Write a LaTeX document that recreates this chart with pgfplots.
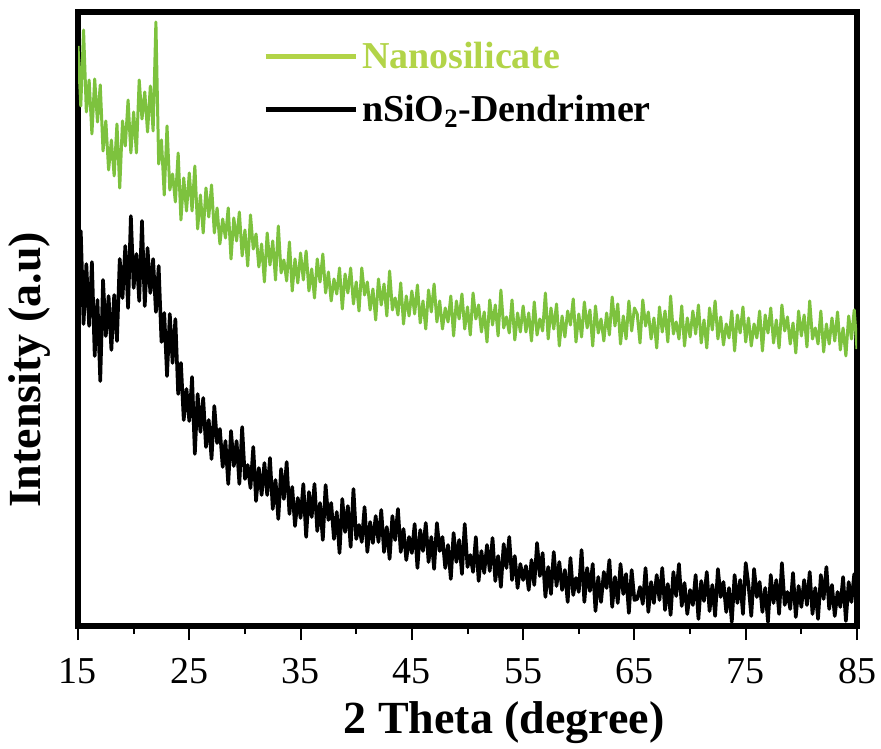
\documentclass[border=0pt]{standalone}
\usepackage{fontspec}
\setmainfont{Liberation Serif}
\usepackage{pgfplots}
\pgfplotsset{compat=1.18}
\definecolor{cgreen}{RGB}{125,194,62}
\definecolor{lgreen}{RGB}{178,212,72}
\begin{document}
\begin{tikzpicture}
\begin{axis}[
 scale only axis, width=389.5pt, height=307pt,
 xmin=15, xmax=85, ymin=0, ymax=614,
 axis line style={line width=3pt},
 xtick={15,25,...,85}, minor xtick={20,30,...,80},
 xtick pos=bottom, ytick=\empty,
 tick align=outside,
 major tick length=7pt, minor tick length=4pt,
 tick style={black, line width=1pt},
 minor tick style={black, line width=1pt},
 /pgf/number format/assume math mode=true,
 ticklabel style={font=\fontsize{19}{22}\selectfont},
 xticklabel style={inner sep=0pt, anchor=north, yshift=-9pt},
 label style={font=\bfseries\fontsize{23}{27}\selectfont},
 xlabel={2 Theta (degree)},
 ylabel={Intensity (a.u)},
 xlabel style={at={(axis description cs:0.547,-0.158)}, anchor=center},
 ylabel style={at={(axis description cs:-0.062,0.417)}, anchor=center},
 legend style={draw=none, fill=none, at={(rel axis cs:0.2375,0.958)}, anchor=north west,
   inner sep=0pt, outer sep=0pt, row sep=8pt, font=\bfseries\fontsize{19}{22}\selectfont,
   cells={anchor=west}, nodes={inner sep=2pt}},
 legend image code/.code={\draw[#1, line width=2.5pt] (0pt,0pt) -- (45pt,0pt);},
]
\addplot[cgreen, line width=1.5pt, line join=round, forget plot] coordinates {
(15,580)(15.25,520)(15.5,596)(15.75,514)(16,546)(16.25,492)(16.5,547)(16.75,504)(17,541)(17.25,475)(17.5,505)(17.75,456)(18,486)(18.25,450)(18.5,502)(18.75,438)(19,505)(19.25,480)(19.5,526)(19.75,473)
(20,514)(20.25,473)(20.5,546)(20.75,507)(21,534)(21.25,494)(21.5,540)(21.75,495)(22,604)(22.25,462)(22.5,486)(22.75,431)(23,500)(23.25,436)(23.5,452)(23.75,424)(24,473)(24.25,406)(24.5,448)(24.75,415)
(25,453)(25.25,415)(25.5,460)(25.75,397)(26,431)(26.25,393)(26.5,438)(26.75,409)(27,441)(27.25,393)(27.5,418)(27.75,382)(28,407)(28.25,388)(28.5,418)(28.75,367)(29,408)(29.25,385)(29.5,414)(29.75,370)
(30,396)(30.25,360)(30.5,411)(30.75,377)(31,392)(31.25,359)(31.5,382)(31.75,344)(32,393)(32.25,361)(32.5,385)(32.75,346)(33,400)(33.25,353)(33.5,366)(33.75,345)(34,384)(34.25,335)(34.5,367)(34.75,343)
(35,373)(35.25,346)(35.5,375)(35.75,335)(36,357)(36.25,328)(36.5,367)(36.75,344)(37,372)(37.25,333)(37.5,354)(37.75,325)(38,347)(38.25,332)(38.5,358)(38.75,317)(39,352)(39.25,333)(39.5,358)(39.75,322)
(40,344)(40.25,315)(40.5,358)(40.75,331)(41,344)(41.25,316)(41.5,337)(41.75,306)(42,347)(42.25,321)(42.5,342)(42.75,310)(43,355)(43.25,316)(43.5,328)(43.75,311)(44,343)(44.25,302)(44.5,330)(44.75,310)
(45,335)(45.25,312)(45.5,341)(45.75,303)(46,325)(46.25,297)(46.5,336)(46.75,314)(47,342)(47.25,304)(47.5,325)(47.75,297)(48,318)(48.25,304)(48.5,330)(48.75,290)(49,325)(49.25,307)(49.5,332)(49.75,297)
(50,319)(50.25,291)(50.5,333)(50.75,307)(51,321)(51.25,294)(51.5,314)(51.75,284)(52,326)(52.25,301)(52.5,321)(52.75,290)(53,336)(53.25,298)(53.5,309)(53.75,293)(54,326)(54.25,286)(54.5,313)(54.75,294)
(55,320)(55.25,294)(55.5,313)(55.75,285)(56,324)(56.25,291)(56.5,307)(56.75,295)(57,333)(57.25,287)(57.5,318)(57.75,297)(58,322)(58.25,280)(58.5,310)(58.75,289)(59,315)(59.25,301)(59.5,327)(59.75,284)
(60,312)(60.25,289)(60.5,324)(60.75,298)(61,316)(61.25,280)(61.5,320)(61.75,293)(62,307)(62.25,285)(62.5,313)(62.75,291)(63,329)(63.25,300)(63.5,322)(63.75,282)(64,310)(64.25,287)(64.5,325)(64.75,295)
(65,318)(65.25,312)(65.5,283)(65.75,326)(66,300)(66.25,314)(66.5,287)(66.75,308)(67,278)(67.25,319)(67.5,294)(67.75,315)(68,284)(68.25,330)(68.5,292)(68.75,304)(69,287)(69.25,320)(69.5,280)(69.75,308)
(70,289)(70.25,315)(70.5,292)(70.75,321)(71,283)(71.25,306)(71.5,278)(71.75,318)(72,296)(72.25,325)(72.5,287)(72.75,309)(73,281)(73.25,302)(73.5,288)(73.75,315)(74,275)(74.25,311)(74.5,293)(74.75,319)
(75,284)(75.25,308)(75.5,280)(75.75,302)(76,288)(76.25,315)(76.5,275)(76.75,311)(77,293)(77.25,318)(77.5,283)(77.75,306)(78,278)(78.25,321)(78.5,295)(78.75,309)(79,282)(79.25,303)(79.5,273)(79.75,315)
(80,290)(80.25,311)(80.5,279)(80.75,325)(81,287)(81.25,298)(81.5,282)(81.75,315)(82,274)(82.25,302)(82.5,282)(82.75,308)(83,285)(83.25,314)(83.5,276)(83.75,298)(84,270)(84.25,310)(84.5,287)(84.75,316)(85,277)
};
\addplot[black, line width=1.8pt, line join=round, forget plot] coordinates {
(15,340)(15.25,395)(15.5,302)(15.75,362)(16,300)(16.25,364)(16.5,270)(16.75,326)(17,245)(17.25,346)(17.5,290)(17.75,330)(18,276)(18.25,331)(18.5,285)(18.75,367)(19,328)(19.25,380)(19.5,318)(19.75,410)
(20,338)(20.25,372)(20.5,325)(20.75,405)(21,320)(21.25,378)(21.5,333)(21.75,367)(22,314)(22.25,360)(22.5,284)(22.75,313)(23,250)(23.25,312)(23.5,263)(23.75,307)(24,232)(24.25,263)(24.5,206)(24.75,237)
(25,205)(25.25,249)(25.5,172)(25.75,232)(26,194)(26.25,228)(26.5,179)(26.75,206)(27,167)(27.25,220)(27.5,183)(27.75,197)(28,159)(28.25,185)(28.5,142)(28.75,195)(29,160)(29.25,185)(29.5,142)(29.75,199)
(30,147)(30.25,161)(30.5,138)(30.75,179)(31,125)(31.25,158)(31.5,131)(31.75,163)(32,131)(32.25,168)(32.5,117)(32.75,146)(33,107)(33.25,157)(33.5,127)(33.75,164)(34,112)(34.25,139)(34.5,100)(34.75,128)
(35,108)(35.25,142)(35.5,89)(35.75,134)(36,109)(36.25,142)(36.5,95)(36.75,123)(37,86)(37.25,141)(37.5,106)(37.75,123)(38,87)(38.25,114)(38.5,73)(38.75,127)(39,94)(39.25,120)(39.5,79)(39.75,137)
(40,87)(40.25,101)(40.5,84)(40.75,119)(41,74)(41.25,104)(41.5,83)(41.75,110)(42,84)(42.25,116)(42.5,74)(42.75,99)(43,67)(43.25,110)(43.5,86)(43.75,117)(44,74)(44.25,97)(44.5,66)(44.75,89)
(45,73)(45.25,102)(45.5,58)(45.75,96)(46,75)(46.25,103)(46.5,64)(46.75,89)(47,57)(47.25,103)(47.5,75)(47.75,89)(48,58)(48.25,81)(48.5,47)(48.75,93)(49,64)(49.25,86)(49.5,52)(49.75,102)
(50,59)(50.25,71)(50.5,54)(50.75,89)(51,45)(51.25,75)(51.5,53)(51.75,81)(52,55)(52.25,88)(52.5,45)(52.75,70)(53,39)(53.25,82)(53.5,58)(53.75,89)(54,46)(54.25,70)(54.5,38)(54.75,62)
(55,46)(55.25,60)(55.5,36)(55.75,66)(56,41)(56.25,83)(56.5,50)(56.75,73)(57,29)(57.25,59)(57.5,32)(57.75,74)(58,40)(58.25,64)(58.5,36)(58.75,56)(59,24)(59.25,68)(59.5,31)(59.75,48)
(60,34)(60.25,76)(60.5,24)(60.75,58)(61,35)(61.25,62)(61.5,15)(61.75,49)(62,24)(62.25,54)(62.5,38)(62.75,66)(63,19)(63.25,49)(63.5,23)(63.75,62)(64,32)(64.25,52)(64.5,13)(64.75,56)
(65,26)(65.25,27)(65.5,39)(65.75,22)(66,58)(66.25,14)(66.5,44)(66.75,23)(67,51)(67.25,26)(67.5,58)(67.75,16)(68,42)(68.25,11)(68.5,54)(68.75,30)(69,62)(69.25,20)(69.5,43)(69.75,12)
(70,36)(70.25,21)(70.5,51)(70.75,7)(71,45)(71.25,25)(71.5,54)(71.75,15)(72,41)(72.25,10)(72.5,57)(72.75,29)(73,44)(73.25,14)(73.5,38)(73.75,4)(74,51)(74.25,23)(74.5,46)(74.75,12)
(75,63)(75.25,41)(75.5,10)(75.75,57)(76,29)(76.25,44)(76.5,14)(76.75,38)(77,4)(77.25,51)(77.5,23)(77.75,46)(78,12)(78.25,63)(78.5,21)(78.75,34)(79,17)(79.25,53)(79.5,9)(79.75,40)
(80,19)(80.25,46)(80.5,21)(80.75,54)(81,12)(81.25,38)(81.5,7)(81.75,51)(82,27)(82.25,59)(82.5,17)(82.75,41)(83,10)(83.25,34)(83.5,19)(83.75,49)(84,5)(84.25,44)(84.5,24)(84.75,52)(85,13)
};
\addlegendimage{lgreen}
\addlegendentry{\textcolor{lgreen}{Nanosilicate}}
\addlegendimage{black}
\addlegendentry{nSiO\textsubscript{2}-Dendrimer}
\coordinate (sw) at (rel axis cs:0,0);
\coordinate (ne) at (rel axis cs:1,1);
\end{axis}
\pgfresetboundingbox
\path ([shift={(-39pt,-61pt)}]sw) rectangle ([shift={(12pt,6pt)}]ne);
\end{tikzpicture}
\end{document}
